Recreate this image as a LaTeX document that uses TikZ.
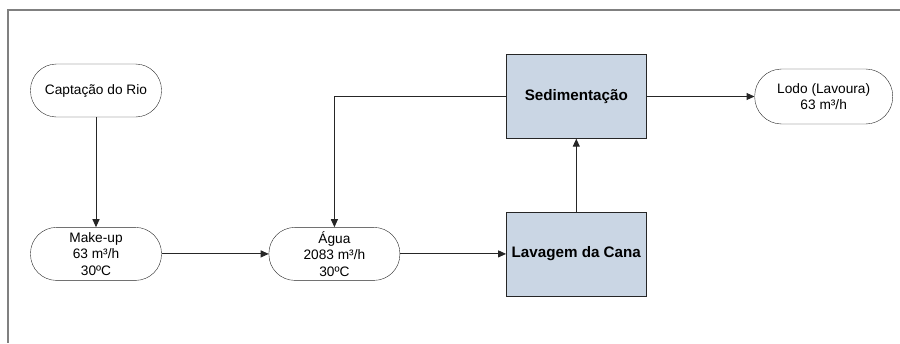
\documentclass[tikz,border=0pt]{standalone}
\usepackage{fontspec}
\setmainfont{Liberation Sans}
\usepackage{xcolor}
\usetikzlibrary{arrows.meta, positioning}
\definecolor{boxfill}{RGB}{202,214,228}

\begin{document}
\begin{tikzpicture}[x=1pt, y=-1pt,
  node distance=107pt and 107pt,
  term/.style={draw=black!85, rounded corners=26pt, minimum width=131pt, minimum height=53pt, align=center, inner sep=2pt, font=\fontsize{13.7}{16.3}\selectfont},
  proc/.style={draw=black!85, fill=boxfill, minimum width=140pt, minimum height=84pt, align=center, font=\fontsize{15.2}{18}\selectfont\bfseries},
  arr/.style={-{Triangle[length=8pt,width=7pt]}, black!85, line width=1pt}]
\useasboundingbox (0,0) rectangle (900,343);
\draw[gray, line width=1.3pt] (900,10) -- (8,10) -- (8,343);
\node[term] (capt) at (96,90.5) {Captação do Rio};
\node[term, below=110pt of capt] (makeup) {Make-up\\63 m³/h\\30ºC};
\node[term, right=107pt of makeup] (agua) {Água\\2083 m³/h\\30ºC};
\node[proc, right=106pt of agua] (lav) {Lavagem da Cana};
\node[proc, above=73pt of lav] (sed) {Sedimentação};
\node[term, right=108pt of sed, minimum width=138pt, minimum height=55pt, rounded corners=27pt] (lodo) {Lodo (Lavoura)\\63 m³/h};
\draw[arr] (capt) -- (makeup);
\draw[arr] (makeup) -- (agua);
\draw[arr] (agua) -- (lav);
\draw[arr] (lav) -- (sed);
\draw[arr] (sed) -- (lodo);
\draw[arr] (sed.west) -| (agua.north);
\end{tikzpicture}
\end{document}
